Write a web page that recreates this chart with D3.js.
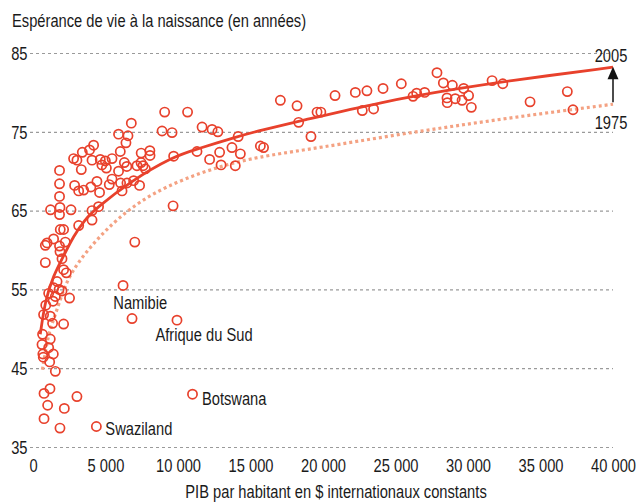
<!DOCTYPE html>
<html>
<head>
<meta charset="utf-8">
<script src="https://cdn.jsdelivr.net/npm/d3@7"></script>
<style>
  body { margin: 0; background: #fff; }
  text { font-family: "Liberation Sans", Arial, sans-serif; fill: #1a1a1a; }
</style>
</head>
<body>
<div id="chart"></div>
<script>
// PIB par habitant (2005) et espérance de vie, un point par pays
var countryGdp = [6780, 5900, 6550, 6410, 4180, 3900, 3400, 6020, 2800, 3030, 4070, 4640, 4990, 5450, 4750, 5060, 6300, 6470, 3330, 1830,
  5900, 7170, 7450, 7590, 7750, 1830, 2870, 3150, 3490, 3990, 4410, 4590, 5260, 5450, 6040, 6140, 6480, 6940, 7350, 1830,
  4520, 1210, 1860, 2620, 4070, 1830, 4070, 3150, 1880, 2110, 1420, 970, 850, 2230, 1830, 1860, 2000, 850, 7020, 2110,
  2300, 1660, 1430, 1800, 2000, 1080, 1540, 2520, 6210, 880, 1380, 730, 1190, 1350, 2110, 6830, 9930, 660, 1190, 620,
  1080, 1400, 680, 710, 1150, 1540, 1170, 760, 3030, 1010, 2160, 760, 1860, 4370, 11000, 9080, 10660, 8900, 9590, 11660,
  12350, 12750, 14150, 7460, 8060, 8070, 9700, 11310, 12180, 12870, 12970, 13720, 14300, 13950, 9660, 15680, 17060, 18210, 18320, 19590,
  19850, 20830, 22230, 23030, 24140, 22710, 23490, 19170, 15900, 25400, 26210, 26460, 27010, 27860, 28300, 28920, 29700, 30040, 28550, 28570,
  29120, 29590, 30230, 31660, 32400, 34280, 36850, 37240];
var countryLife = [76.1, 74.7, 74.5, 73.6, 73.3, 72.7, 72.4, 72.5, 71.6, 71.4, 71.4, 71.5, 71.3, 71.6, 70.8, 70.4, 71.1, 70.6, 70.2, 70.1,
  70.0, 70.7, 71.1, 70.7, 70.3, 68.4, 68.2, 67.5, 67.6, 68.0, 68.7, 67.3, 68.3, 69.0, 68.5, 67.5, 68.5, 68.8, 68.2, 66.8,
  65.5, 65.1, 65.4, 65.1, 65.0, 64.5, 63.8, 63.1, 62.6, 62.6, 61.4, 60.9, 60.6, 61.0, 60.5, 59.8, 58.9, 58.4, 61.0, 57.5,
  57.1, 56.0, 55.2, 55.0, 54.8, 54.5, 54.1, 53.9, 55.5, 53.0, 53.5, 51.8, 51.6, 50.7, 50.6, 51.3, 51.1, 49.3, 48.7, 48.0,
  47.6, 46.8, 46.8, 46.4, 45.8, 44.6, 42.4, 41.8, 41.4, 40.3, 39.9, 38.6, 37.4, 37.6, 41.7, 77.5, 77.5, 75.1, 74.9, 75.6,
  75.3, 75.0, 74.4, 72.3, 72.6, 72.0, 71.9, 72.5, 71.5, 72.4, 70.8, 73.0, 72.2, 70.7, 65.6, 73.2, 79.0, 78.3, 76.2, 77.5,
  77.5, 79.6, 80.0, 80.2, 80.5, 77.7, 77.9, 74.4, 73.0, 81.1, 79.5, 79.9, 80.0, 82.5, 81.2, 80.9, 80.5, 79.6, 79.3, 78.7,
  79.2, 79.0, 78.1, 81.5, 81.1, 78.8, 80.1, 77.8];

// courbes de tendance
var trend2005Gdp = [500, 850, 1400, 2100, 2800, 3600, 4300, 6700, 9700, 11300, 14100, 15700, 18300, 24000, 29700, 32500, 40000];
var trend2005Life = [49.3, 53.7, 56.7, 59.2, 61.8, 63.9, 65.2, 68.7, 71.9, 72.8, 74.4, 75.2, 76.3, 78.8, 80.6, 81.4, 83.2];
var trend1975Gdp = [650, 850, 1100, 1550, 2100, 2700, 3600, 4650, 5800, 7400, 9250, 11550, 13850, 16150, 19800, 25000, 30000, 35000, 40000];
var trend1975Life = [44.8, 47.0, 49.6, 51.8, 55.0, 57.3, 59.6, 61.8, 63.9, 66.2, 68.1, 69.8, 71.1, 72.0, 73.0, 74.6, 76.0, 77.3, 78.5];

var yTicks = [35, 45, 55, 65, 75, 85];
var xTicks = [0, 5000, 10000, 15000, 20000, 25000, 30000, 35000, 40000];

var labelNames = ["Namibie", "Afrique du Sud", "Botswana", "Swaziland"];
var labelGdp = [5540, 8440, 11650, 4990];
var labelLife = [52.45, 48.5, 40.3, 36.5];

var margin = {top: 53, right: 25, bottom: 56, left: 33};
var width = 580, height = 394;
var red = "#e8412c", salmon = "#f4a283";
var fontSize = "17.5px";
var squeeze = 0.84; // police étroite type Helvetica Condensed

var frFormat = d3.formatLocale({decimal: ",", thousands: " ", grouping: [3], currency: ["", " $"]}).format(",");

var x = d3.scaleLinear().domain([0, 40000]).range([0, width]);
var y = d3.scaleLinear().domain([35, 85]).range([height, 0]);

var svg = d3.select("#chart").append("svg")
  .attr("width", 638)
  .attr("height", 503)
  .append("g")
  .attr("transform", "translate(" + margin.left + "," + margin.top + ")");

function addText(parent, px, py, str, anchor) {
  return parent.append("g")
    .attr("transform", "translate(" + px + "," + py + ") scale(" + squeeze + ",1)")
    .append("text")
    .style("text-anchor", anchor || "start")
    .style("font-size", fontSize)
    .text(str);
}

// axe vertical + lignes de grille
var yAxis = svg.append("g")
  .attr("transform", "translate(-3,0)")
  .call(d3.axisLeft(y).tickValues(yTicks).tickSize(-(width + 3)).tickPadding(3));
yAxis.select(".domain").remove();
yAxis.selectAll("line")
  .attr("stroke", "#9a9a9a")
  .attr("stroke-width", 1.2)
  .attr("stroke-dasharray", "3,3");
yAxis.selectAll("text")
  .attr("dy", "0.36em")
  .attr("transform", "scale(" + squeeze + ",1)")
  .style("font-size", fontSize);

var xAxis = svg.append("g")
  .attr("transform", "translate(0," + height + ")")
  .call(d3.axisBottom(x).tickValues(xTicks).tickSize(0).tickPadding(13).tickFormat(frFormat));
xAxis.select(".domain").remove();
xAxis.selectAll("text")
  .attr("transform", "scale(" + squeeze + ",1)")
  .style("font-size", fontSize);

addText(svg, -21, -26, "Espérance de vie à la naissance (en années)");
addText(svg, 303, height + 51, "PIB par habitant en $ internationaux constants", "middle");

var line = d3.line()
  .x(function(d) { return x(d[0]); })
  .y(function(d) { return y(d[1]); })
  .curve(d3.curveBasis);

svg.append("path")
  .datum(d3.zip(trend1975Gdp, trend1975Life))
  .attr("fill", "none")
  .attr("stroke", salmon)
  .attr("stroke-width", 3.2)
  .attr("stroke-dasharray", "3,3")
  .attr("d", line);

svg.selectAll(".pays")
  .data(d3.zip(countryGdp, countryLife))
  .enter().append("circle")
  .attr("class", "pays")
  .attr("cx", function(d) { return x(d[0]); })
  .attr("cy", function(d) { return y(d[1]); })
  .attr("r", 4.6)
  .attr("fill", "none")
  .attr("stroke", red)
  .attr("stroke-width", 1.7);

svg.append("path")
  .datum(d3.zip(trend2005Gdp, trend2005Life))
  .attr("fill", "none")
  .attr("stroke", red)
  .attr("stroke-width", 2.8)
  .attr("d", line);

// flèche 1975 -> 2005
var endX = x(trend2005Gdp[trend2005Gdp.length - 1]);
var top05 = y(trend2005Life[trend2005Life.length - 1]);
var low75 = y(trend1975Life[trend1975Life.length - 1]);
svg.append("line")
  .attr("x1", endX).attr("x2", endX)
  .attr("y1", low75 - 2).attr("y2", top05 + 10)
  .attr("stroke", "#111")
  .attr("stroke-width", 1.5);
svg.append("path")
  .attr("d", "M" + endX + "," + (top05 - 0.5) + "L" + (endX - 5.5) + "," + (top05 + 12) + "L" + (endX + 5.5) + "," + (top05 + 12) + "Z")
  .attr("fill", "#111");

addText(svg, endX - 2, top05 - 5, "2005", "middle");
addText(svg, endX - 2, low75 + 25, "1975", "middle");

labelNames.forEach(function(name, i) {
  addText(svg, x(labelGdp[i]), y(labelLife[i]), name);
});
</script>
</body>
</html>
